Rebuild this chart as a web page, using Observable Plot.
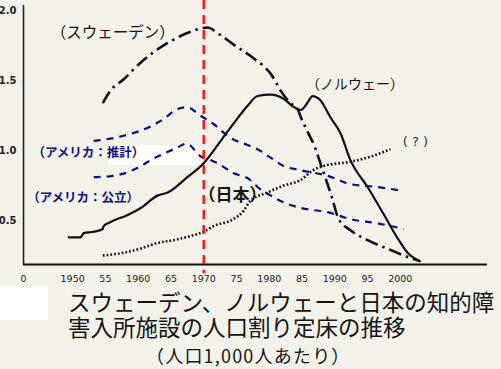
<!DOCTYPE html>
<html><head><meta charset="utf-8">
<script src="https://cdn.jsdelivr.net/npm/d3@7"></script>
<script src="https://cdn.jsdelivr.net/npm/@observablehq/plot@0.6"></script>
<style>
html,body{margin:0;padding:0;background:#f3f1e8;}
#wrap{position:relative;width:501px;height:369px;overflow:hidden;font-family:"Noto Sans CJK JP",sans-serif;background:#f3f1e8;}
#chart{position:absolute;left:0;top:0;}
.patch{position:absolute;background:#ffffff;}
#title{position:absolute;left:68px;top:289px;white-space:pre;color:#141414;font-size:22.5px;line-height:25px;}
#sub{position:absolute;left:146px;top:342px;white-space:pre;color:#141414;font-size:18px;line-height:26px;letter-spacing:1.2px;}
</style></head><body>
<div id="wrap">
<div class="patch" style="left:108px;top:145px;width:90px;height:20px"></div>
<div id="chart"></div>
<div class="patch" style="left:0;top:286px;width:48px;height:34px"></div>
<div id="title">スウェーデン、ノルウェーと日本の知的障
害入所施設の人口割り定床の推移</div>
<div id="sub">（人口1,000人あたり）</div>
</div>
<script>
// ---- data ----
const swedenYear  = [1954.6,1955.8,1957.8,1960.4,1964.5,1967.5,1970.6,1972.1,1974.5,1977.6,1980.2,1982.0,1983.2,1984.3,1984.8,1985.8,1987.0,1987.8,1989.6,1990.5,1992.4,1995.0,1998.5,2001.1,2003.0];
const swedenValue = [1.34,1.43,1.51,1.63,1.77,1.84,1.88,1.84,1.76,1.66,1.55,1.41,1.34,1.30,1.24,1.14,1.02,0.91,0.66,0.52,0.43,0.36,0.29,0.24,0.21];

const norwayYear  = [1949.4,1951.2,1951.7,1953.2,1954.6,1954.7,1955.8,1958.4,1960.4,1963.0,1964.5,1967.5,1970.0,1972.6,1974.5,1976.7,1978.2,1980.2,1982.2,1983.5,1984.8,1985.8,1986.6,1987.8,1989.3,1990.9,1992.4,1995.0,1997.4,1999.5,2001.1,2003.0];
const norwayValue = [0.38,0.38,0.41,0.42,0.44,0.46,0.49,0.54,0.59,0.68,0.70,0.81,0.91,1.07,1.19,1.32,1.39,1.40,1.37,1.32,1.29,1.34,1.39,1.36,1.24,1.12,0.93,0.74,0.55,0.38,0.27,0.21];

const japanYear  = [1954.6,1957.8,1960.4,1963.0,1965.4,1968.0,1970.0,1971.5,1974.5,1976.1,1977.1,1979.7,1982.2,1984.8,1986.7,1988.3,1992.4,1995.0,1998.5];
const japanValue = [0.25,0.27,0.30,0.34,0.36,0.39,0.42,0.46,0.51,0.57,0.64,0.70,0.75,0.79,0.86,0.89,0.92,0.95,1.01];

const usEstYear  = [1953.2,1956.3,1958.1,1960.2,1962.2,1964.0,1965.7,1967.4,1969.5,1971.5,1974.1,1976.7,1978.2,1980.2,1982.2,1984.8,1988.9,1992.4,1996.5,2000.5];
const usEstValue = [1.07,1.09,1.11,1.14,1.18,1.23,1.29,1.31,1.25,1.19,1.09,1.04,1.01,0.95,0.89,0.86,0.82,0.76,0.74,0.71];

const usPubYear  = [1953.2,1956.1,1958.1,1960.4,1962.2,1964.0,1965.9,1967.4,1969.5,1971.2,1972.1,1974.5,1977.1,1978.2,1980.2,1982.2,1984.8,1988.9,1992.4,1996.5,2000.5];
const usPubValue = [0.81,0.82,0.84,0.89,0.94,0.98,1.02,1.05,0.96,0.93,0.91,0.84,0.79,0.74,0.68,0.63,0.59,0.56,0.51,0.48,0.44];

const markerYear = 1970;

const xOrigin = 1942.5, xEnd = 2013.3;
const yBase = 0.186, yTop = 2.037;
const yTicks = [0.5, 1.0, 1.5, 2.0];
const xTicks = [xOrigin,1950,1955,1960,1965,1970,1975,1980,1985,1990,1995,2000];
const xTickLabels = ["0","1950","55","1960","65","1970","75","1980","85","1990","95","2000"];

const labelText  = ["（スウェーデン）","（ノルウェー）","( ? )","（日本）","（アメリカ：推計）","（アメリカ：公立）"];
const labelYear  = [1956.1,1993.1,2002.3,1974.4,1952.4,1951.6];
const labelValue = [1.84,1.47,1.06,0.68,0.98,0.66];

// ---- build ----
const toRows = (xs, ys) => xs.map((x,i)=>({year:x, value:ys[i]}));
const sweden = toRows(swedenYear, swedenValue);
const norway = toRows(norwayYear, norwayValue);
const japan  = toRows(japanYear, japanValue);
const usEst  = toRows(usEstYear, usEstValue);
const usPub  = toRows(usPubYear, usPubValue);
const labels = labelText.map((t,i)=>({text:t, year:labelYear[i], value:labelValue[i]}));
const tickMap = new Map(xTicks.map((t,i)=>[t, xTickLabels[i]]));
const navy = "#0c0c8c";
const cjk = "Noto Sans CJK JP";

const plot = Plot.plot({
  width: 501, height: 290,
  marginTop: 5, marginBottom: 26, marginLeft: 23, marginRight: 14,
  style: {background: "transparent", overflow: "visible"},
  x: {domain: [xOrigin, xEnd], axis: null},
  y: {domain: [yBase, yTop], axis: null},
  marks: [
    Plot.axisY(yTicks, {tickSize: 0, tickPadding: 7, tickFormat: d3.format(".1f"), fontSize: 10, fontWeight: "bold", fontFamily: "DejaVu Sans", fill: "#222", label: null}),
    Plot.axisX(xTicks, {tickSize: 0, tickPadding: 11, tickFormat: d => tickMap.get(d), fontSize: 9.5, fontFamily: "DejaVu Sans", fill: "#222", label: null}),
    Plot.ruleY([yBase], {stroke: "#111", strokeWidth: 1.8}),
    Plot.ruleX([xOrigin], {stroke: "#222", strokeWidth: 1.6}),
    Plot.line(usEst, {x: "year", y: "value", stroke: navy, strokeWidth: 2.2, strokeDasharray: "7,6", strokeLinecap: "butt", curve: "monotone-x"}),
    Plot.line(usPub, {x: "year", y: "value", stroke: navy, strokeWidth: 2.2, strokeDasharray: "7,6", strokeLinecap: "butt", curve: "monotone-x"}),
    Plot.line(japan, {x: "year", y: "value", stroke: "#1a1a1a", strokeWidth: 2.6, strokeDasharray: "1.8,2", strokeLinecap: "butt", curve: "monotone-x"}),
    Plot.line(norway, {x: "year", y: "value", stroke: "#111", strokeWidth: 2.2, curve: "monotone-x"}),
    Plot.line(sweden, {x: "year", y: "value", stroke: "#111", strokeWidth: 2.6, strokeDasharray: "13,5,2.5,5", strokeLinecap: "butt", curve: "monotone-x"}),
    Plot.ruleX([markerYear], {stroke: "#ff1010", strokeWidth: 2.4, strokeDasharray: "9,6", strokeLinecap: "butt", insetTop: -5, insetBottom: -9}),
    Plot.text(labels.slice(0,1), {x: "year", y: "value", text: "text", fontSize: 15.5, fontFamily: cjk, fill: "#141414"}),
    Plot.text(labels.slice(1,2), {x: "year", y: "value", text: "text", fontSize: 14, fontFamily: cjk, fill: "#141414"}),
    Plot.text(labels.slice(2,3), {x: "year", y: "value", text: "text", fontSize: 13, fontFamily: "DejaVu Sans", fill: "#333"}),
    Plot.text(labels.slice(3,4), {x: "year", y: "value", text: "text", fontSize: 17, fontFamily: cjk, fontWeight: "bold", fill: "#141414"}),
    Plot.text(labels.slice(4,6), {x: "year", y: "value", text: "text", fontSize: 12.5, fontFamily: cjk, fontWeight: "bold", fill: navy})
  ]
});
document.getElementById("chart").appendChild(plot);
</script>
</body></html>
